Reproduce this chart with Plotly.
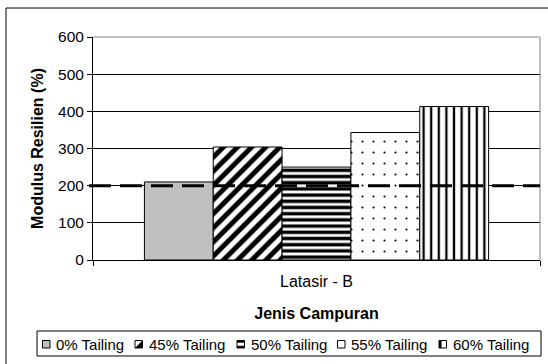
import plotly.graph_objects as go

# ---- data ----
categories = ["Latasir - B"]
series_names = ["0% Tailing", "45% Tailing", "50% Tailing", "55% Tailing", "60% Tailing"]
tailing_0 = [210]
tailing_45 = [304]
tailing_50 = [250]
tailing_55 = [343]
tailing_60 = [413]
threshold = 200
y_ticks = [0, 100, 200, 300, 400, 500, 600]

series_values = [tailing_0, tailing_45, tailing_50, tailing_55, tailing_60]

# ---- page geometry (pixels) ----
W, H = 548, 364
L, R, T, B = 93, 540, 37, 260


def px_x(px):
    return (px - L) / (R - L)


def px_y(py):
    return (B - py) / (B - T)


FONT = "Liberation Sans, Arial, sans-serif"

# fill style for each series
fills = [
    dict(color="#c0c0c0"),
    dict(color="white", pattern=dict(shape="/", size=10, solidity=0.5,
                                     fgcolor="black", bgcolor="white", fgopacity=1)),
    dict(color="white", pattern=dict(shape="-", size=6.2, solidity=0.55,
                                     fgcolor="black", bgcolor="white", fgopacity=1)),
    dict(color="white", pattern=dict(shape=".", size=11, solidity=0.03,
                                     fgcolor="black", bgcolor="white", fgopacity=1)),
    dict(color="white", pattern=dict(shape="|", size=7.6, solidity=0.3,
                                     fgcolor="black", bgcolor="white", fgopacity=1)),
]

fig = go.Figure()
for name, vals, fill in zip(series_names, series_values, fills):
    marker = dict(color=fill["color"], line=dict(color="black", width=1))
    if "pattern" in fill:
        marker["pattern"] = fill["pattern"]
    fig.add_trace(go.Bar(x=categories, y=vals, name=name, marker=marker,
                         showlegend=False, hoverinfo="name+y"))

shapes = []

# outer chart frame
shapes.append(dict(type="rect", xref="paper", yref="paper",
                   x0=px_x(6), x1=px_x(556), y0=px_y(372), y1=px_y(8),
                   line=dict(color="black", width=1), fillcolor="rgba(0,0,0,0)",
                   layer="below"))

# plot-area frame (top and right sides)
shapes.append(dict(type="line", xref="paper", yref="paper", x0=0, x1=1, y0=1, y1=1,
                   line=dict(color="#808080", width=1), layer="above"))
shapes.append(dict(type="line", xref="paper", yref="paper", x0=1, x1=1, y0=0, y1=1,
                   line=dict(color="#808080", width=1), layer="above"))

# reference level
shapes.append(dict(type="line", xref="paper", yref="y", x0=px_x(89), x1=1,
                   y0=threshold, y1=threshold,
                   line=dict(color="black", width=3, dash="22px,9px"), layer="above"))

# legend box
LEG_T, LEG_B = 331, 356
shapes.append(dict(type="rect", xref="paper", yref="paper",
                   x0=px_x(37), x1=px_x(541), y0=px_y(LEG_B), y1=px_y(LEG_T),
                   line=dict(color="black", width=1), fillcolor="white", layer="above"))

# legend swatches and labels
swatch_left = [42.5, 135, 237, 337.5, 439]
SW = 7.5
SY0, SY1 = 340.5, 348
annotations = []
for i, (name, sx) in enumerate(zip(series_names, swatch_left)):
    base = "#c0c0c0" if i == 0 else "white"
    shapes.append(dict(type="rect", xref="paper", yref="paper",
                       x0=px_x(sx), x1=px_x(sx + SW), y0=px_y(SY1), y1=px_y(SY0),
                       line=dict(color="black", width=1), fillcolor=base, layer="above"))
    if i == 1:
        path = "M {:.5f},{:.5f} L {:.5f},{:.5f} L {:.5f},{:.5f} Z".format(
            px_x(sx + SW), px_y(SY0), px_x(sx + SW), px_y(SY1), px_x(sx), px_y(SY1))
        shapes.append(dict(type="path", xref="paper", yref="paper", path=path,
                           fillcolor="black", line=dict(width=0), layer="above"))
    elif i == 2:
        for y0, y1 in [(SY0, SY0 + 2.2), (SY1 - 2.2, SY1)]:
            shapes.append(dict(type="rect", xref="paper", yref="paper",
                               x0=px_x(sx), x1=px_x(sx + SW), y0=px_y(y1), y1=px_y(y0),
                               fillcolor="black", line=dict(width=0), layer="above"))
    elif i == 4:
        shapes.append(dict(type="rect", xref="paper", yref="paper",
                           x0=px_x(sx), x1=px_x(sx + 2.5), y0=px_y(SY1), y1=px_y(SY0),
                           fillcolor="black", line=dict(width=0), layer="above"))
    annotations.append(dict(text=name, xref="paper", yref="paper",
                            x=px_x(sx + SW + 5), y=px_y(344.5),
                            xanchor="left", yanchor="middle", showarrow=False,
                            font=dict(family=FONT, size=15, color="black"),
                            borderpad=0))

fig.update_layout(
    width=W, height=H,
    margin=dict(l=L, r=W - R, t=T, b=H - B, pad=0),
    paper_bgcolor="white", plot_bgcolor="white",
    barmode="group", bargap=0.23, bargroupgap=0,
    font=dict(family=FONT, size=15, color="black"),
    shapes=shapes,
    annotations=annotations,
    xaxis=dict(
        showline=True, linecolor="black", linewidth=1,
        ticks="outside", ticklen=5, tickcolor="black", tickwidth=1,
        tickson="boundaries", showgrid=False,
        tickfont=dict(family=FONT, size=16, color="black"),
        ticklabelstandoff=7,
        title=dict(text="Jenis Campuran", standoff=18,
                   font=dict(family=FONT, size=16, color="black", weight="bold")),
    ),
    yaxis=dict(
        range=[0, 600], tickvals=y_ticks, ticktext=[str(v) for v in y_ticks],
        showline=True, linecolor="black", linewidth=1,
        ticks="outside", ticklen=5, tickcolor="black", tickwidth=1,
        showgrid=True, gridcolor="black", gridwidth=1, zeroline=False,
        tickfont=dict(family=FONT, size=15.5, color="black"),
        title=dict(text="Modulus Resilien (%)", standoff=10,
                   font=dict(family=FONT, size=16, color="black", weight="bold")),
    ),
)

fig.write_html("out.html")
